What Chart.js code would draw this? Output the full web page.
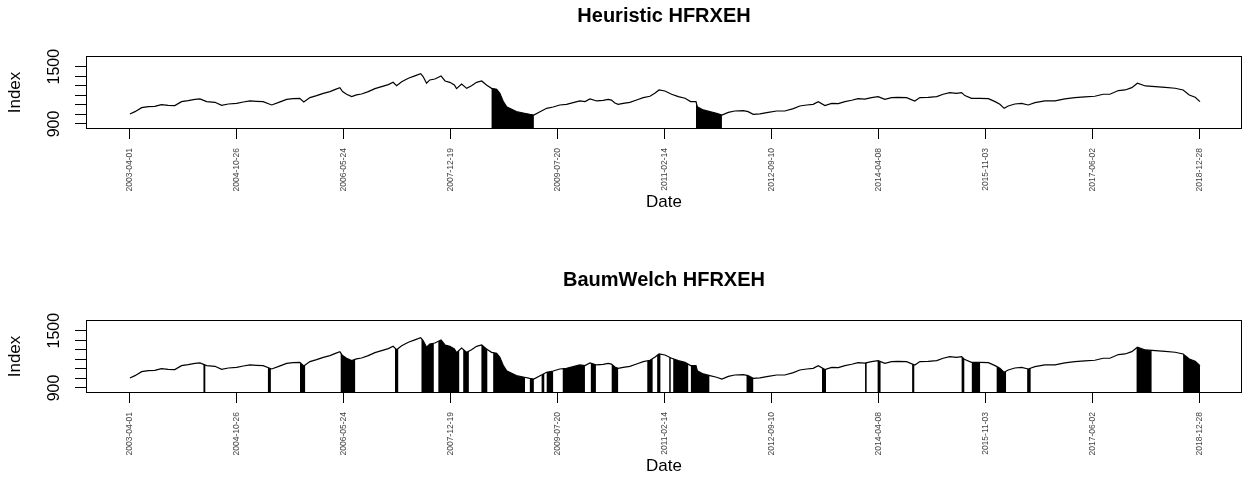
<!DOCTYPE html>
<html>
<head>
<meta charset="utf-8">
<title>HFRXEH regimes</title>
<script src="https://cdn.jsdelivr.net/npm/chart.js@4.4.1/dist/chart.umd.min.js"></script>
<style>
  html, body { margin: 0; padding: 0; background: #fff; overflow: hidden; }
  .panel { position: absolute; left: 0; width: 1244px; height: 215px; }
  #top { top: 0; }
  #bottom { top: 264px; }
</style>
</head>
<body>
<div class="panel" id="top"><canvas id="heuristicChart"></canvas></div>
<div class="panel" id="bottom"><canvas id="baumWelchChart"></canvas></div>
<script>
const obs = [
    0, 19, 44, 69, 93, 118, 143, 168, 193, 218, 243, 262, 287, 318, 343, 368, 399, 424, 449, 474,
    498, 530, 554, 586, 610, 635, 650, 673, 698, 723, 748, 766, 785, 795, 810, 829, 847, 866, 891, 916,
    941, 966, 984, 997, 1016, 1041, 1065, 1087, 1096, 1109, 1121, 1140, 1163, 1178, 1196, 1213, 1221, 1240, 1259, 1277,
    1296, 1315, 1333, 1352, 1371, 1383, 1396, 1408, 1427, 1445, 1470, 1495, 1510, 1533, 1558, 1582, 1607, 1632, 1657, 1682,
    1701, 1720, 1745, 1769, 1788, 1800, 1813, 1825, 1844, 1869, 1894, 1919, 1944, 1962, 1978, 2000, 2025, 2050, 2075, 2096,
    2116, 2121, 2143, 2168, 2193, 2213, 2237, 2261, 2293, 2311, 2330, 2355, 2386, 2418, 2448, 2480, 2504, 2530, 2554, 2573,
    2598, 2623, 2648, 2673, 2698, 2722, 2747, 2772, 2797, 2822, 2847, 2872, 2903, 2934, 2953, 2984, 3016, 3040, 3065, 3090,
    3109, 3121, 3146, 3177, 3209, 3234, 3252, 3268, 3283, 3308, 3333, 3358, 3383, 3420, 3458, 3495, 3532, 3570, 3607, 3638,
    3663, 3695, 3720, 3745, 3766, 3796, 3833, 3870, 3907, 3937, 3960, 3982, 4000
];
const hfrxeh = [
    1005, 1029, 1071, 1081, 1085, 1102, 1095, 1092, 1134, 1144, 1158, 1162, 1134, 1127, 1095, 1109, 1116, 1130, 1141, 1137,
    1134, 1099, 1123, 1158, 1165, 1169, 1130, 1176, 1197, 1221, 1239, 1259, 1280, 1239, 1211, 1186, 1204, 1214, 1239, 1270,
    1291, 1312, 1336, 1301, 1343, 1378, 1403, 1427, 1396, 1326, 1361, 1371, 1403, 1350, 1336, 1308, 1270, 1319, 1273, 1301,
    1336, 1350, 1308, 1273, 1263, 1221, 1134, 1081, 1054, 1029, 1015, 1001, 994, 1029, 1064, 1078, 1099, 1106, 1123, 1141,
    1134, 1162, 1141, 1148, 1158, 1150, 1120, 1105, 1116, 1127, 1151, 1176, 1190, 1221, 1256, 1245, 1211, 1186, 1169, 1134,
    1134, 1081, 1047, 1029, 1012, 994, 1022, 1036, 1040, 1029, 1001, 1005, 1022, 1036, 1036, 1061, 1088, 1099, 1106, 1134,
    1092, 1116, 1113, 1134, 1148, 1165, 1160, 1176, 1186, 1158, 1176, 1179, 1176, 1141, 1176, 1179, 1186, 1211, 1228, 1221,
    1228, 1197, 1169, 1169, 1165, 1134, 1106, 1064, 1088, 1109, 1116, 1099, 1123, 1141, 1141, 1162, 1176, 1183, 1190, 1211,
    1211, 1250, 1256, 1280, 1326, 1298, 1291, 1284, 1274, 1256, 1204, 1180, 1134
];

// x axis: a date label every 400 observations
const tickObs = [0, 400, 800, 1200, 1600, 2000, 2400, 2800, 3200, 3600, 4000];
const tickDates = ['2003-04-01', '2004-10-26', '2006-05-24', '2007-12-19', '2009-07-20', '2011-02-14',
    '2012-09-10', '2014-04-08', '2015-11-03', '2017-06-02', '2018-12-28'];

// y axis
const yTicks = [900, 1000, 1100, 1200, 1300, 1400, 1500];
const yLabels = [900, 1500];

// regime periods, first and last observation
const heuristicStart = [1352, 2116];
const heuristicEnd = [1510, 2213];
const baumWelchStart = [275, 516, 636, 788, 991, 1090, 1153, 1246, 1314, 1358, 1495, 1539, 1558, 1618, 1723, 1801,
    1934, 1971, 2016, 2031, 2097, 2305, 2587, 2748, 2795, 2924, 3109, 3147, 3240, 3354, 3763, 3937];
const baumWelchEnd = [282, 527, 655, 842, 1003, 1136, 1231, 1267, 1336, 1477, 1510, 1549, 1582, 1701, 1742, 1825,
    1954, 1983, 2021, 2087, 2166, 2330, 2602, 2754, 2806, 2932, 3119, 3178, 3275, 3367, 3819, 4000];

Chart.defaults.font.family = '"Liberation Sans", Arial, sans-serif';
Chart.defaults.color = '#000';

// shades the area under the line inside every regime period
const regimePlugin = {
    id: 'regimes',
    beforeDatasetsDraw(chart, args, opts) {
        const {ctx, chartArea, scales} = chart;
        const pts = chart.getDatasetMeta(0).data;
        ctx.save();
        ctx.beginPath();
        opts.start.forEach((s, i) => {
            const x0 = scales.x.getPixelForValue(s);
            const x1 = scales.x.getPixelForValue(opts.end[i]);
            ctx.rect(x0, chartArea.top, Math.max(x1 - x0, 1.5), chartArea.height);
        });
        ctx.clip();
        ctx.beginPath();
        ctx.moveTo(pts[0].x, chartArea.bottom);
        pts.forEach(p => ctx.lineTo(p.x, p.y));
        ctx.lineTo(pts[pts.length - 1].x, chartArea.bottom);
        ctx.closePath();
        ctx.fillStyle = '#000';
        ctx.fill();
        ctx.restore();
    }
};

// box round the plot and the rotated y labels (R style)
const framePlugin = {
    id: 'frame',
    afterDraw(chart) {
        const {ctx, chartArea: a, scales: {y}} = chart;
        ctx.save();
        ctx.strokeStyle = '#000';
        ctx.lineWidth = 1;
        ctx.strokeRect(Math.round(a.left) + 0.5, Math.round(a.top) - 0.5,
            Math.round(a.width) - 1, Math.round(a.height) + 1);
        ctx.font = '16px "Liberation Sans", Arial, sans-serif';
        ctx.fillStyle = '#000';
        ctx.textAlign = 'center';
        ctx.textBaseline = 'middle';
        yLabels.forEach(v => {
            ctx.save();
            ctx.translate(a.left - 31, y.getPixelForValue(v));
            ctx.rotate(-Math.PI / 2);
            ctx.fillText(String(v), 0, 0);
            ctx.restore();
        });
        ctx.restore();
    }
};

function makePanel(canvasId, title, starts, ends) {
    const points = obs.map((o, i) => ({x: o, y: hfrxeh[i]}));
    return new Chart(document.getElementById(canvasId), {
        type: 'line',
        data: {
            datasets: [{
                label: title,
                data: points,
                borderColor: '#000',
                borderWidth: 1.2,
                pointRadius: 0,
                tension: 0,
                fill: false
            }]
        },
        options: {
            responsive: true,
            maintainAspectRatio: false,
            animation: false,
            events: [],
            layout: {padding: {left: 0, right: 2, top: 0, bottom: 0}},
            plugins: {
                legend: {display: false},
                tooltip: {enabled: false},
                title: {
                    display: true,
                    text: title,
                    fullSize: false,
                    color: '#000',
                    font: {size: 20, weight: 'bold'},
                    padding: {top: 4, bottom: 29}
                },
                regimes: {start: starts, end: ends}
            },
            scales: {
                x: {
                    type: 'linear',
                    min: -164,
                    max: 4157,
                    afterBuildTicks: s => { s.ticks = tickObs.map(v => ({value: v})); },
                    afterFit: s => { s.height = 87; },
                    grid: {display: true, drawOnChartArea: false, drawTicks: true, tickLength: 11, color: '#000'},
                    border: {display: false},
                    ticks: {
                        autoSkip: false,
                        minRotation: 90,
                        maxRotation: 90,
                        padding: 9,
                        color: '#444',
                        font: {size: 8.5},
                        callback: (v, i) => tickDates[i]
                    },
                    title: {display: true, text: 'Date', font: {size: 17}, color: '#000', padding: {top: 0, bottom: 2}}
                },
                y: {
                    min: 858,
                    max: 1601,
                    afterBuildTicks: s => { s.ticks = yTicks.map(v => ({value: v})); },
                    afterFit: s => { s.width = 86; },
                    grid: {display: true, drawOnChartArea: false, drawTicks: true, tickLength: 11, color: '#000'},
                    border: {display: false},
                    ticks: {display: false},
                    title: {display: true, text: 'Index', font: {size: 17}, color: '#000', padding: {top: 5, bottom: 0}}
                }
            }
        },
        plugins: [regimePlugin, framePlugin]
    });
}

makePanel('heuristicChart', 'Heuristic HFRXEH', heuristicStart, heuristicEnd);
makePanel('baumWelchChart', 'BaumWelch HFRXEH', baumWelchStart, baumWelchEnd);
</script>
</body>
</html>
